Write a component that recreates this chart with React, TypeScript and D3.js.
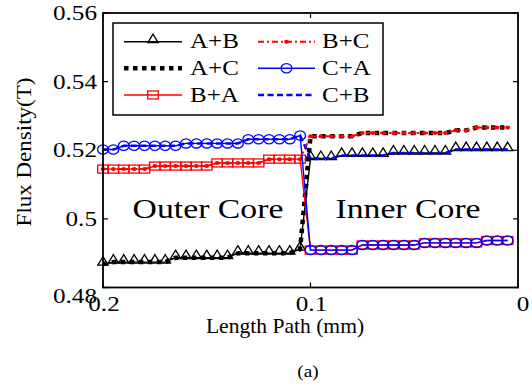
import React from 'react';
import * as d3 from 'd3';

// path positions (mm)
const xOuter = [0.2, 0.195, 0.19, 0.185, 0.18, 0.175, 0.17, 0.165, 0.16, 0.155, 0.15, 0.145, 0.14, 0.135, 0.13, 0.125, 0.12, 0.115, 0.11, 0.105];
const xInner = [0.1, 0.095, 0.09, 0.085, 0.08, 0.075, 0.07, 0.065, 0.06, 0.055, 0.05, 0.045, 0.04, 0.035, 0.03, 0.025, 0.02, 0.015, 0.01, 0.005];

// flux density levels (T)
const outerLow = [0.4868, 0.4874, 0.4874, 0.4874, 0.4874, 0.4874, 0.4874, 0.4887, 0.4887, 0.4887, 0.4887, 0.4887, 0.4887, 0.49, 0.49, 0.49, 0.49, 0.49, 0.49, 0.4912];
const outerMid = [0.5145, 0.5145, 0.5145, 0.5145, 0.5145, 0.5154, 0.5154, 0.5154, 0.5154, 0.5154, 0.5154, 0.5163, 0.5163, 0.5163, 0.5163, 0.5163, 0.5174, 0.5174, 0.5174, 0.5174];
const outerHigh = [0.5202, 0.5202, 0.5213, 0.5213, 0.5213, 0.5213, 0.5213, 0.5213, 0.522, 0.522, 0.522, 0.522, 0.522, 0.522, 0.5232, 0.5232, 0.5232, 0.5232, 0.5232, 0.5243];
const innerLow = [0.4909, 0.4909, 0.4909, 0.4909, 0.4909, 0.4924, 0.4924, 0.4924, 0.4924, 0.4924, 0.4924, 0.493, 0.493, 0.493, 0.493, 0.493, 0.493, 0.4937, 0.4937, 0.4937];
const innerMid = [0.5176, 0.5176, 0.5176, 0.5185, 0.5185, 0.5185, 0.5185, 0.5185, 0.5192, 0.5192, 0.5192, 0.5192, 0.5192, 0.5192, 0.5202, 0.5202, 0.5202, 0.5202, 0.5202, 0.5202];
const innerHigh = [0.5241, 0.5241, 0.5241, 0.5241, 0.5241, 0.525, 0.525, 0.525, 0.525, 0.525, 0.525, 0.525, 0.525, 0.525, 0.5258, 0.5258, 0.5266, 0.5266, 0.5266, 0.5266];

const seriesNames = ['A+B', 'A+C', 'B+A', 'B+C', 'C+A', 'C+B'];
const xTicks = [0.2, 0.1, 0];
const xTickLabels = ['0.2', '0.1', '0'];
const yTicks = [0.48, 0.5, 0.52, 0.54, 0.56];
const yTickLabels = ['0.48', '0.5', '0.52', '0.54', '0.56'];

type Marker = 'triangle' | 'square' | 'circle' | 'dot' | 'none';
interface Style { color: string; width: number; dash?: string; marker: Marker }

const styles: Record<string, Style> = {
  'A+B': { color: '#000', width: 1.4, marker: 'triangle' },
  'A+C': { color: '#000', width: 4.5, dash: '4.5 4.5', marker: 'none' },
  'B+A': { color: '#f00', width: 1.4, marker: 'square' },
  'B+C': { color: '#f00', width: 2, dash: '6 3 2 3', marker: 'dot' },
  'C+A': { color: '#00f', width: 1.4, marker: 'circle' },
  'C+B': { color: '#00f', width: 2.5, dash: '6 3.5', marker: 'none' },
};

const xs = [...xOuter, ...xInner];
const seriesValues: Record<string, number[]> = {
  'A+B': [...outerLow, ...innerMid],
  'A+C': [...outerLow, ...innerHigh],
  'B+A': [...outerMid, ...innerLow],
  'B+C': [...outerMid, ...innerHigh],
  'C+A': [...outerHigh, ...innerLow],
  'C+B': [...outerHigh, ...innerMid],
};

const FONT = '"Liberation Serif", "Times New Roman", serif';
const W = 532;
const H = 388;
const left = 103, right = 518, top = 13, bottom = 287.5;

const MarkerShape: React.FC<{ kind: Marker; x: number; y: number; color: string }> = ({ kind, x, y, color }) => {
  if (kind === 'triangle')
    return <path d={`M${x},${y - 7.5}L${x + 5.2},${y + 1}L${x - 5.2},${y + 1}Z`} fill="none" stroke={color} strokeWidth={1.3} />;
  if (kind === 'square')
    return <rect x={x - 5.3} y={y - 4} width={10.6} height={8} fill="none" stroke={color} strokeWidth={1.3} />;
  if (kind === 'circle')
    return <ellipse cx={x} cy={y} rx={5.4} ry={4.6} fill="none" stroke={color} strokeWidth={1.3} />;
  if (kind === 'dot') return <ellipse cx={x} cy={y} rx={2.4} ry={2} fill={color} />;
  return null;
};

const App: React.FC = () => {
  const x = d3.scaleLinear().domain([0.2, 0]).range([left, right]);
  const y = d3.scaleLinear().domain([0.48, 0.56]).range([bottom, top]);
  const line = d3
    .line<number>()
    .x((_, i) => x(xs[i]))
    .y((d) => y(d));

  // legend layout
  const legLeft = 113, legTop = 23, legRight = 383, legBottom = 115;
  const rowY = [41.7, 68.3, 95];

  return (
    <svg width={W} height={H} style={{ display: 'block', position: 'absolute', left: 0, top: 0, background: '#fff' }}>
      <rect width={W} height={H} fill="#fff" />
      <g fontFamily={FONT} fill="#000">
        {/* series */}
        {seriesNames.map((name) => {
          const s = styles[name];
          return (
            <g key={name}>
              <path d={line(seriesValues[name]) || ''} fill="none" stroke={s.color} strokeWidth={s.width} strokeDasharray={s.dash} />
              {seriesValues[name].map((v, i) => (
                <MarkerShape key={i} kind={s.marker} x={x(xs[i])} y={y(v)} color={s.color} />
              ))}
            </g>
          );
        })}

        {/* axes box */}
        <rect x={left} y={top} width={right - left} height={bottom - top} fill="none" stroke="#000" strokeWidth={1.8} />
        {xTicks.map((t) => (
          <g key={'xt' + t}>
            <line x1={x(t)} x2={x(t)} y1={bottom} y2={bottom - 5} stroke="#000" strokeWidth={1.2} />
            <line x1={x(t)} x2={x(t)} y1={top} y2={top + 5} stroke="#000" strokeWidth={1.2} />
          </g>
        ))}
        {yTicks.map((t) => (
          <g key={'yt' + t}>
            <line x1={left} x2={left + 5} y1={y(t)} y2={y(t)} stroke="#000" strokeWidth={1.2} />
            <line x1={right} x2={right - 5} y1={y(t)} y2={y(t)} stroke="#000" strokeWidth={1.2} />
          </g>
        ))}
        {yTicks.map((t, i) => (
          <text key={'yl' + t} transform={`translate(97,${y(t) + (i === 0 ? 15 : 7)}) scale(1.2,1)`} textAnchor="end" fontSize={21}>
            {yTickLabels[i]}
          </text>
        ))}
        {xTicks.map((t, i) => (
          <text key={'xl' + t} transform={`translate(${x(t) + (i === 2 ? 5 : 1)},311) scale(1.2,1)`} textAnchor="middle" fontSize={21}>
            {xTickLabels[i]}
          </text>
        ))}

        {/* region labels */}
        <text transform="translate(208,218) scale(1.25,1)" textAnchor="middle" fontSize={27}>Outer Core</text>
        <text transform="translate(408,218) scale(1.25,1)" textAnchor="middle" fontSize={27}>Inner Core</text>

        {/* axis titles */}
        <text transform="translate(285,333) scale(1.08,1)" textAnchor="middle" fontSize={20}>Length Path (mm)</text>
        <text transform="translate(31,152) rotate(-90) scale(1.15,1)" textAnchor="middle" fontSize={20}>Flux Density(T)</text>
        <text transform="translate(308,377) scale(1.2,1)" textAnchor="middle" fontSize={16}>(a)</text>

        {/* legend */}
        <rect x={legLeft} y={legTop} width={legRight - legLeft} height={legBottom - legTop} fill="#fff" stroke="#000" strokeWidth={1.5} />
        {seriesNames.map((name, i) => {
          const s = styles[name];
          const col = Math.floor(i / 3);
          const ry = rowY[i % 3];
          const x0 = col === 0 ? 124 : 258;
          const x1 = col === 0 ? 182 : 315;
          const tx = col === 0 ? 190 : 322;
          return (
            <g key={'lg' + name}>
              <line x1={x0} x2={x1} y1={ry} y2={ry} stroke={s.color} strokeWidth={s.width} strokeDasharray={s.dash} />
              <MarkerShape kind={s.marker} x={(x0 + x1) / 2} y={ry} color={s.color} />
              <text transform={`translate(${tx},${ry + 6.7}) scale(1.25,1)`} fontSize={20}>{name}</text>
            </g>
          );
        })}
      </g>
    </svg>
  );
};

export default App;
